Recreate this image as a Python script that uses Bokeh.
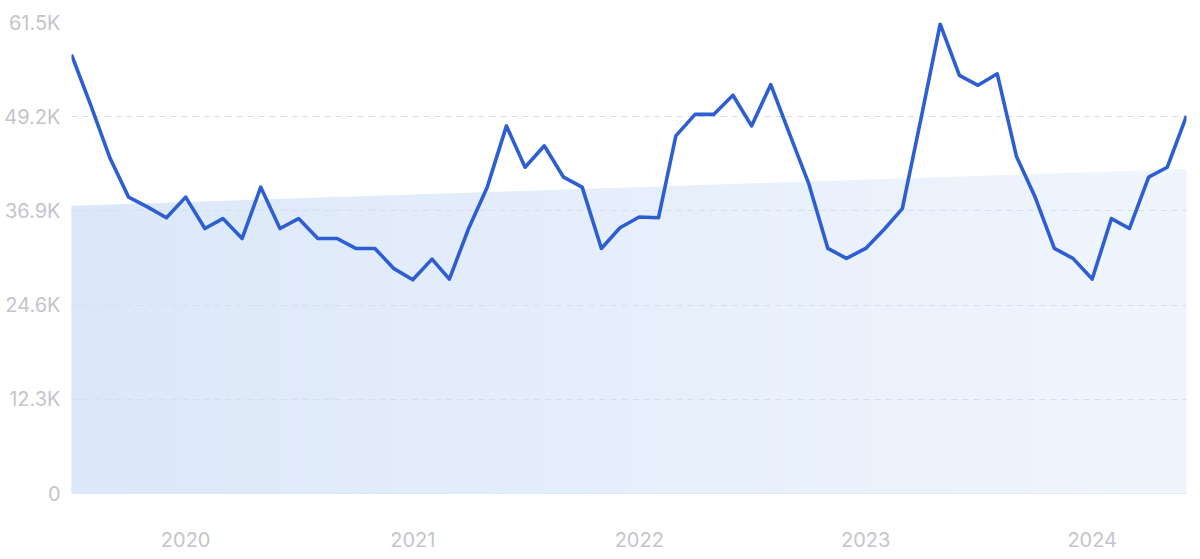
import numpy as np
import pandas as pd
from bokeh.plotting import figure
from bokeh.models import FixedTicker, ColumnDataSource
from bokeh.embed import file_html
from bokeh.resources import INLINE

# ---- data ----
months = pd.date_range("2019-07-01", "2024-06-01", freq="MS")
values = [57300, 50700, 43800, 38700, 37400, 36000, 38700, 34600, 35900, 33300,
          40000, 34600, 35900, 33300, 33300, 32000, 32000, 29400, 27900, 30600,
          28000, 34600, 40000, 48000, 42600, 45400, 41300, 40000, 32000, 34700,
          36100, 36000, 46700, 49500, 49500, 52000, 48000, 53400, 46800, 40500,
          32000, 30700, 32000, 34600, 37200, 49300, 61300, 54600, 53300, 54800,
          44000, 38700, 32000, 30700, 28000, 35900, 34600, 41300, 42600, 49300]
trend_start = 37500
trend_end = 42300
y_ticks = [0, 12300, 24600, 36900, 49200, 61500]
y_tick_labels = ["0", "12.3K", "24.6K", "36.9K", "49.2K", "61.5K"]
year_ticks = ["2020-01-01", "2021-01-01", "2022-01-01", "2023-01-01", "2024-01-01"]
year_labels = ["2020", "2021", "2022", "2023", "2024"]

LINE = "#2e5fd2"
GRID = "#d3deee"
TEXT = "#c4c5ca"
FONT = "Inter"

p = figure(frame_width=1115, frame_height=471, output_backend="svg", toolbar_location=None,
           x_axis_type="datetime",
           x_range=(months[0], months[-1]), y_range=(0, 61500),
           min_border_left=71, min_border_right=6, min_border_top=22,
           min_border_bottom=57)
p.outline_line_color = None
p.background_fill_color = "white"
p.border_fill_color = "white"

# ---- gradient trend area (vertical strips) ----
xs_ms = np.array([m.value // 10**6 for m in months], dtype=float)
x0, x1 = xs_ms[0], xs_ms[-1]
n_strips = 80
edges = np.linspace(x0, x1, n_strips + 1)
c_left = np.array([0xdc, 0xe8, 0xf9])
c_right = np.array([0xf1, 0xf6, 0xfe])
strip_xs, strip_ys, strip_cols = [], [], []
for i in range(n_strips):
    a, b = edges[i], edges[i + 1]
    ta = trend_start + (trend_end - trend_start) * (a - x0) / (x1 - x0)
    tb = trend_start + (trend_end - trend_start) * (b - x0) / (x1 - x0)
    strip_xs.append([a, b, b, a])
    strip_ys.append([0, 0, tb, ta])
    t = (i + 0.5) / n_strips
    c = (c_left * (1 - t) + c_right * t).astype(int)
    strip_cols.append("#%02x%02x%02x" % tuple(c))
area = p.patches(strip_xs, strip_ys, fill_color=strip_cols, line_color=strip_cols, line_width=1)
area.level = "image"

# baseline
base = p.line([months[0], months[-1]], [0, 0], line_color="#cddff5", line_width=1.2)
base.level = "image"

# ---- main line ----
src = ColumnDataSource(dict(x=months, y=values))
p.line("x", "y", source=src, line_color=LINE, line_width=3.6, line_join="round")

# ---- axes ----
p.xgrid.grid_line_color = None
p.ygrid.grid_line_color = GRID
p.ygrid.grid_line_dash = "6 5"
p.ygrid.grid_line_width = 1
p.ygrid.level = "underlay"

p.yaxis.ticker = FixedTicker(ticks=y_ticks)
p.yaxis.major_label_overrides = {t: l for t, l in zip(y_ticks, y_tick_labels)}
yt_ms = [pd.Timestamp(d).value // 10**6 for d in year_ticks]
p.xaxis.ticker = FixedTicker(ticks=yt_ms)
p.xaxis.major_label_overrides = {t: l for t, l in zip(yt_ms, year_labels)}

for ax in (p.xaxis[0], p.yaxis[0]):
    ax.axis_line_color = None
    ax.major_tick_line_color = None
    ax.minor_tick_line_color = None
    ax.major_label_text_color = TEXT
    ax.major_label_text_font = FONT
    ax.major_label_text_font_size = "20px"
p.yaxis.major_label_standoff = 5
p.xaxis.major_label_standoff = 32

open("out.html", "w").write(file_html(p, INLINE))
